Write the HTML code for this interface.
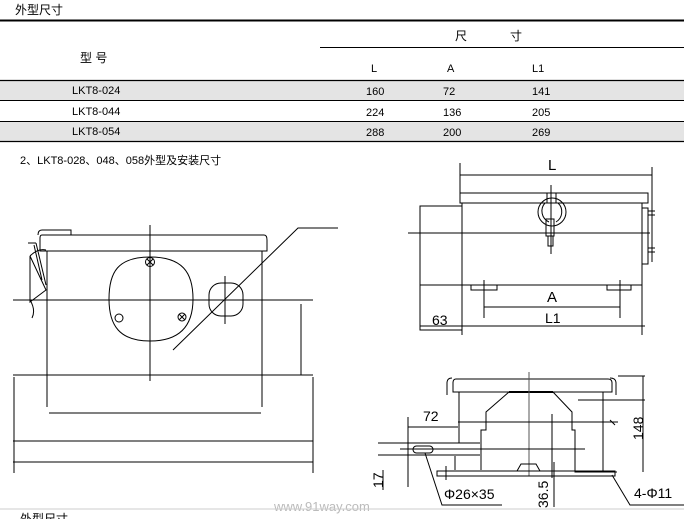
<!DOCTYPE html>
<html><head><meta charset="utf-8"><style>
html,body{margin:0;padding:0;background:#fff;}
svg{display:block;}
text{font-family:"Liberation Sans","Noto Sans CJK SC",sans-serif;fill:#000;}
</style></head><body>
<svg width="684" height="519" viewBox="0 0 684 519" xmlns="http://www.w3.org/2000/svg">
<!-- table -->
<text x="15" y="14" font-size="12">外型尺寸</text>
<line x1="0" y1="20.5" x2="684" y2="20.5" stroke="#000" stroke-width="2"/>
<text x="455" y="40" font-size="12">尺</text>
<text x="510" y="40" font-size="12">寸</text>
<line x1="320" y1="47.5" x2="684" y2="47.5" stroke="#000" stroke-width="1"/>
<text x="80" y="62" font-size="12">型 号</text>
<text x="371" y="72" font-size="11">L</text>
<text x="447" y="72" font-size="11">A</text>
<text x="532" y="72" font-size="11">L1</text>
<rect x="0" y="81" width="684" height="19" fill="#e4e4e4"/>
<rect x="0" y="122" width="684" height="19" fill="#e4e4e4"/>
<line x1="0" y1="80.5" x2="684" y2="80.5" stroke="#000" stroke-width="1.3"/>
<line x1="0" y1="100.5" x2="684" y2="100.5" stroke="#000" stroke-width="1"/>
<line x1="0" y1="121.5" x2="684" y2="121.5" stroke="#000" stroke-width="1"/>
<line x1="0" y1="141.5" x2="684" y2="141.5" stroke="#000" stroke-width="1.3"/>
<g font-size="11">
<text x="72" y="94">LKT8-024</text><text x="366" y="95">160</text><text x="443" y="95">72</text><text x="532" y="95">141</text>
<text x="72" y="115">LKT8-044</text><text x="366" y="116">224</text><text x="443" y="116">136</text><text x="532" y="116">205</text>
<text x="72" y="135">LKT8-054</text><text x="366" y="136">288</text><text x="443" y="136">200</text><text x="532" y="136">269</text>
</g>
<text x="20" y="164" font-size="11">2、LKT8-028、048、058外型及安装尺寸</text>

<g stroke="#000" stroke-width="1" fill="none">
<!-- left drawing -->
<line x1="13" y1="300" x2="313" y2="300"/>
<line x1="150" y1="225" x2="150" y2="381"/>
<path d="M42 235 H264 Q267 235 267 240 V251 H40 V238 Q40 235 42 235 Z"/>
<path d="M38 235 Q38 230 42 230 H71 V235"/>
<line x1="47" y1="251" x2="47" y2="407"/>
<line x1="262" y1="251" x2="262" y2="407"/>
<line x1="49" y1="413" x2="261" y2="413"/>
<line x1="13" y1="375" x2="313" y2="375"/>
<line x1="13" y1="441" x2="313" y2="441"/>
<line x1="13" y1="462" x2="313" y2="462"/>
<line x1="14" y1="377" x2="14" y2="473"/>
<line x1="313" y1="377" x2="313" y2="473"/>
<line x1="301" y1="304" x2="301" y2="375"/>
<path d="M150 257 C182 257 193 272 193 299 C193 326 180 341 150 341 C120 341 109 326 109 299 C109 272 118 257 150 257 Z"/>
<circle cx="150" cy="262" r="4.5"/><path d="M147 259 L153 265 M153 259 L147 265"/>
<circle cx="119" cy="318" r="4"/>
<circle cx="182" cy="317" r="4"/><path d="M179 314 L185 320 M185 314 L179 320"/>
<rect x="209" y="283" width="34" height="33" rx="12"/>
<line x1="225" y1="276" x2="225" y2="324"/>
<path d="M173 350 L298 228 H338"/>
<path d="M28 243 L36 243 M34 245 L42 280 M36 243 L46 285 M30 256 Q38 248 46 250 M30 256 L46 290 L30 302 L30 256 M30 300 Q36 310 32 318"/>
<!-- right top -->
<line x1="460" y1="175" x2="652" y2="175"/>
<line x1="460" y1="163" x2="460" y2="193"/>
<line x1="652" y1="167" x2="652" y2="262"/>
<rect x="460" y="193" width="188" height="10"/>
<line x1="462" y1="203" x2="462" y2="335"/>
<line x1="642" y1="203" x2="642" y2="335"/>
<rect x="420" y="206" width="42" height="124"/>
<line x1="408" y1="233" x2="650" y2="233"/>
<line x1="420" y1="285" x2="642" y2="285"/>
<rect x="471" y="285" width="26" height="5"/>
<rect x="607" y="285" width="24" height="5"/>
<line x1="484" y1="280" x2="484" y2="318"/>
<line x1="620" y1="280" x2="620" y2="318"/>
<line x1="484" y1="307" x2="620" y2="307"/>
<line x1="420" y1="326" x2="645" y2="326"/>
<rect x="642" y="208" width="6" height="56"/>
<path d="M648 211 H655 M648 215 H655 M648 248 H655 M648 252 H655"/>
<circle cx="552" cy="212" r="14"/>
<path d="M545 203 A12 12 0 0 0 549 222 M558 203 A12 12 0 0 1 556 222"/>
<rect x="547" y="193" width="9" height="10"/>
<rect x="546" y="219" width="8" height="17"/>
<rect x="548" y="236" width="5" height="10"/>
<line x1="551" y1="185" x2="551" y2="254"/>
<!-- right bottom -->
<path d="M456 379 H608 Q612 379 612 383 V392 H453 V383 Q453 379 456 379 Z"/>
<path d="M447 395 V383 Q447 378 452 378 M616 395 V383 Q616 378 610 378"/>
<line x1="459" y1="392" x2="459" y2="443"/>
<line x1="603" y1="392" x2="603" y2="472"/>
<line x1="509" y1="392" x2="553" y2="392" stroke-width="2"/>
<path d="M509 392 L486 412 V430 H481 V470"/>
<path d="M553 392 L572 412 V430 H575 V472 H617"/>
<line x1="552" y1="414" x2="552" y2="478"/>
<line x1="529" y1="372" x2="529" y2="476" stroke="#555"/>
<line x1="458" y1="422" x2="618" y2="422"/>
<line x1="408" y1="427" x2="458" y2="427"/>
<line x1="408" y1="417" x2="408" y2="487"/>
<line x1="378" y1="443" x2="480" y2="443"/>
<line x1="378" y1="455" x2="480" y2="455"/>
<line x1="400" y1="449" x2="585" y2="449"/>
<rect x="413" y="446" width="20" height="7" rx="3.5"/>
<line x1="455" y1="456" x2="455" y2="470"/>
<rect x="437" y="471" width="178" height="5"/>
<path d="M517 471 L521 464 H536 L540 471"/>
<line x1="446" y1="466" x2="446" y2="480"/>
<line x1="578" y1="400" x2="645" y2="400"/>
<line x1="618" y1="376" x2="645" y2="376"/>
<line x1="643" y1="376" x2="643" y2="472"/>
<line x1="610" y1="420" x2="615" y2="425"/>
<path d="M425 453 L442 505 H502"/>
<path d="M612 475 L630 505 H684"/>
<line x1="383" y1="470" x2="383" y2="490"/>
<line x1="554" y1="462" x2="554" y2="507"/>
</g>
<g font-size="14">
<text x="548" y="170" font-size="15">L</text>
<text x="547" y="302" font-size="15">A</text>
<text x="545" y="323">L1</text>
<text x="432" y="325">63</text>
<text x="423" y="421">72</text>
<text transform="translate(643,440) rotate(-90)">148</text>
<text transform="translate(383,488) rotate(-90)">17</text>
<text transform="translate(548,508) rotate(-90)">36.5</text>
<text x="444" y="499">Φ26×35</text>
<text x="634" y="498">4-Φ11</text>
</g>
<text x="274" y="511" font-size="13" fill="#bbb" style="fill:#bbb">www.91way.com</text>
<line x1="0" y1="509" x2="684" y2="509" stroke="#ccc" stroke-width="1"/>
<text x="20" y="523" font-size="12">外型尺寸</text>
</svg>
</body></html>
